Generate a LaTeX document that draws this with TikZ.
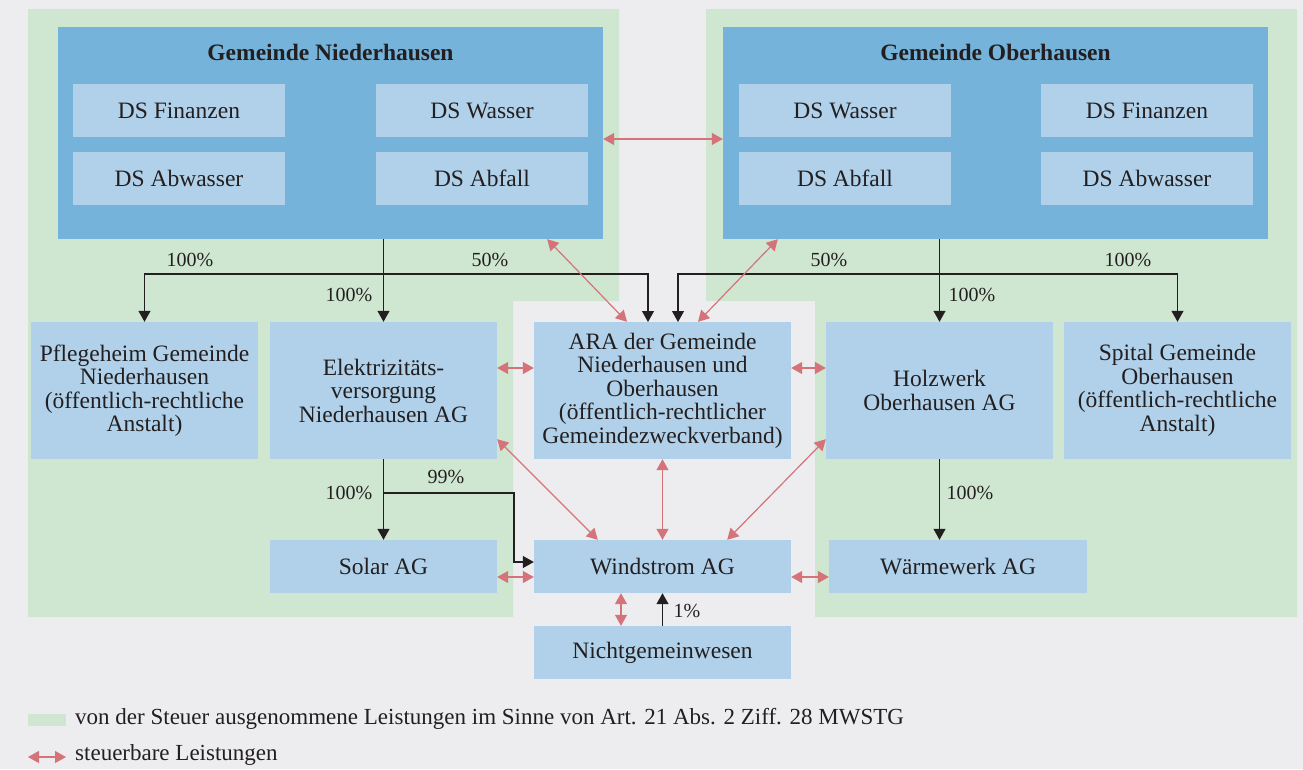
\documentclass[tikz,border=0pt]{standalone}
\usepackage{fontspec}
\setmainfont{Liberation Serif}
\usetikzlibrary{arrows.meta}
\definecolor{bggray}{HTML}{EDEDEF}
\definecolor{taxfree}{HTML}{CFE6D1}
\definecolor{darkblue}{HTML}{75B3DA}
\definecolor{lightblue}{HTML}{B0D1E9}
\definecolor{taxred}{HTML}{D4737A}
\definecolor{ink}{HTML}{231F20}
\newcommand\boxfont[0]{\fontsize{23.5}{23.5}\selectfont}

\tikzset{
  unit/.style={fill=lightblue, inner sep=0pt, align=center, text=ink, font=\boxfont},
  dsbox/.style={unit, minimum width=212pt, minimum height=53pt},
  bigbox/.style={unit, minimum width=227pt, minimum height=137pt},
  widebox/.style={unit, minimum width=257pt, minimum height=137pt},
  lowbox/.style={unit, minimum width=#1, minimum height=53pt},
  gemeinde/.style={fill=darkblue, inner sep=0pt, minimum width=545pt, minimum height=212pt},
  share/.style={text=ink, inner sep=0pt, font=\fontsize{20}{20}\selectfont},
  legend/.style={text=ink, inner sep=0pt, anchor=west, font=\fontsize{23}{23}\selectfont},
  own/.style={ink, line width=1.2pt, -{Triangle[length=11pt,width=12pt]}},
  taxed/.style={taxred, line width=1.2pt, {Triangle[length=11pt,width=12pt]}-{Triangle[length=11pt,width=12pt]}}
}

\begin{document}
\begin{tikzpicture}[x=1pt,y=-1pt]

\useasboundingbox (0,0) rectangle (1303,769);
\fill[bggray] (0,0) rectangle (1303,769);

\fill[taxfree] (28,9) -- (619,9) -- (619,301) -- (513,301) -- (513,617) -- (28,617) -- cycle;
\fill[taxfree] (706,9) -- (1297,9) -- (1297,617) -- (815,617) -- (815,301) -- (706,301) -- cycle;

\node[gemeinde] (nied) at (330.5,133) {};
\node[gemeinde] (ober) at (995.5,133) {};
\node[text=ink, font=\boxfont\bfseries] (niedtitle) at (330.5,52) {Gemeinde Niederhausen};
\node[text=ink, font=\boxfont\bfseries] (obertitle) at (995.5,52) {Gemeinde Oberhausen};

\node[dsbox] (nfin) at (179,110.5) {DS Finanzen};
\node[dsbox] (nwas) at (482,110.5) {DS Wasser};
\node[dsbox] (nabw) at (179,178.5) {DS Abwasser};
\node[dsbox] (nabf) at (482,178.5) {DS Abfall};

\node[dsbox] (owas) at (845,110.5) {DS Wasser};
\node[dsbox] (ofin) at (1147,110.5) {DS Finanzen};
\node[dsbox] (oabf) at (845,178.5) {DS Abfall};
\node[dsbox] (oabw) at (1147,178.5) {DS Abwasser};

\node[bigbox] (pflege) at (144.5,390.5) {Pflegeheim Gemeinde\\Niederhausen\\(öffentlich-rechtliche\\Anstalt)};
\node[bigbox] (elek) at (383.5,390.5) {Elektrizitäts-\\versorgung\\Niederhausen AG};
\node[widebox] (ara) at (662.5,390.5) {ARA der Gemeinde\\Niederhausen und\\Oberhausen\\(öffentlich-rechtlicher\\Gemeindezweckverband)};
\node[bigbox] (holz) at (939.5,390.5) {Holzwerk\\Oberhausen AG};
\node[bigbox] (spital) at (1177.5,390.5) {Spital Gemeinde\\Oberhausen\\(öffentlich-rechtliche\\Anstalt)};

\node[lowbox=227pt] (solar) at (383.5,566.5) {Solar AG};
\node[lowbox=257pt] (wind) at (662.5,566.5) {Windstrom AG};
\node[lowbox=258pt] (waerme) at (958,566.5) {Wärmewerk AG};
\node[lowbox=257pt] (nicht) at (662.5,652.5) {Nichtgemeinwesen};

\coordinate (nsplit) at (383.5,274);
\coordinate (osplit) at (939.5,274);
\coordinate (esplit) at (383.5,493);
\coordinate (ebend) at (514,493);
\coordinate (aranied) at (648,322);
\coordinate (araober) at (678,322);

\draw[ink, line width=1.2pt] (elek.north |- nied.south) -- (nsplit);
\draw[own] (nsplit) -- (elek.north);
\draw[own] (nsplit) -| (pflege.north);
\draw[own] (nsplit) -| (aranied);
\draw[ink, line width=1.2pt] (holz.north |- ober.south) -- (osplit);
\draw[own] (osplit) -- (holz.north);
\draw[own] (osplit) -| (spital.north);
\draw[own] (osplit) -| (araober);

\draw[own] (elek.south) -- (solar.north);
\draw[own] (esplit) -- (ebend) |- ([yshift=4.5pt]wind.west);
\draw[own] (holz.south) -- (holz.south |- waerme.north);
\draw[own] (nicht.north) -- (wind.south);

\node[share] (p1) at (190,260) {100\%};
\node[share] (p2) at (490,260) {50\%};
\node[share] (p3) at (349,295) {100\%};
\node[share] (p4) at (829,260) {50\%};
\node[share] (p5) at (1128,260) {100\%};
\node[share] (p6) at (972,295) {100\%};
\node[share] (p7) at (349,493) {100\%};
\node[share] (p8) at (446,477) {99\%};
\node[share] (p9) at (970,493) {100\%};
\node[share] (p10) at (687,611) {1\%};

\draw[taxed] ([yshift=-6pt]nied.east) -- ([yshift=-6pt]ober.west);
\draw[taxed] ([xshift=-56pt]nied.south east) -- ([xshift=-35.5pt]ara.north);
\draw[taxed] ([xshift=55pt]ober.south west) -- ([xshift=35.5pt]ara.north);
\draw[taxed] ([yshift=22.5pt]elek.east) -- ([yshift=22.5pt]ara.west);
\draw[taxed] ([yshift=22.5pt]ara.east) -- ([yshift=22.5pt]holz.west);
\draw[taxed] ([yshift=20pt]elek.south east) -- ([xshift=64pt]wind.north west);
\draw[taxed] (ara.south) -- (wind.north);
\draw[taxed] ([yshift=20pt]holz.south west) -- ([xshift=-64pt]wind.north east);
\draw[taxed] ([yshift=-10.5pt]solar.east) -- ([yshift=-10.5pt]wind.west);
\draw[taxed] ([yshift=-10.5pt]wind.east) -- ([yshift=-10.5pt]waerme.west);
\draw[taxed] ([xshift=-41.5pt]wind.south) -- ([xshift=-41.5pt]nicht.north);

\fill[taxfree] (28,714) rectangle (66,726);
\node[legend] (legfree) at (75,719) {von der Steuer ausgenommene Leistungen im Sinne von Art. 21 Abs. 2 Ziff. 28 MWSTG};
\coordinate (legA) at (28,757);
\coordinate (legB) at (66,757);
\draw[taxed] (legA) -- (legB);
\node[legend] (legtax) at (75,755) {steuerbare Leistungen};

\end{tikzpicture}
\end{document}
